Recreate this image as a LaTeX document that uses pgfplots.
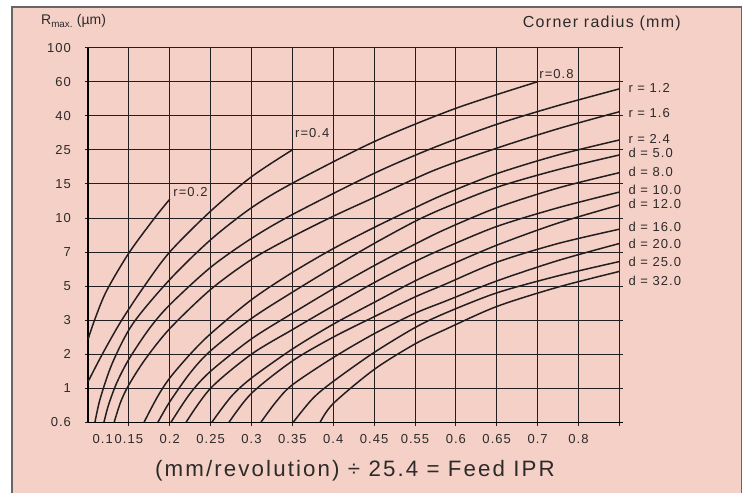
\documentclass[border=0pt]{standalone}
\usepackage{pgfplots}
\pgfplotsset{compat=1.18}
\usepackage{fontspec}
\setmainfont{Liberation Sans}
\newfontfamily\spaced[LetterSpace=8]{Liberation Sans}
\newfontfamily\spacedb[LetterSpace=9.5]{Liberation Sans}
\definecolor{bgpink}{RGB}{245,208,198}
\definecolor{ink}{RGB}{35,31,32}
\definecolor{txt}{RGB}{45,42,42}
\pgfplotsset{curve/.style={ink, line width=1.5pt, smooth, mark=none}}
\begin{document}
\begin{tikzpicture}[x=1pt,y=1pt]
\useasboundingbox (0,0) rectangle (744,493);
\fill[white] (0,0) rectangle (744,493);
\fill[bgpink] (12,0) rectangle (741.5,486);
\draw[black!60, line width=1.2pt] (12,0) -- (12,486) -- (741.5,486) -- (741.5,0);
\begin{axis}[
  at={(88pt,70.7pt)}, anchor=south west,
  scale only axis, width=535.4pt, height=374.6pt,
  xmin=0, xmax=13.1, ymin=0, ymax=11,
  axis x line*=bottom, axis y line*=left,
  x axis line style={line width=1.6pt,-},
  y axis line style={line width=2.8pt,-},
  xtick={1,...,13},
  xticklabels={0.15,0.2,0.25,0.3,0.35,0.4,0.45,0.55,0.6,0.65,0.7,0.8,{}},
  extra x ticks={0.36}, extra x tick labels={0.1},
  extra x tick style={grid=none, tick style={draw=none}},
  ytick={0,...,11},
  yticklabels={0.6,1,2,3,5,7,10,15,25,40,60,100},
  grid=major, major grid style={ink, line width=0.9pt},
  tick style={ink, line width=0.9pt}, tick align=outside, major tick length=3.5pt,
  ticklabel style={font=\spaced\fontsize{13}{15}\selectfont, text=txt},
  yticklabel style={xshift=-10pt},
  xticklabel style={yshift=-5pt},
  clip=false,
]
% r = 0.2
\addplot[curve] coordinates {(0,2.43)(0.16,3)(0.45,3.85)(1,4.97)(1.63,6)(2,6.55)};
% r = 0.4
\addplot[curve] coordinates {(0,1.19)(0.35,2.0)(0.8,2.95)(1.35,3.95)(2,5.0)(3,6.2)(4,7.21)(5,8.0)};
% r = 0.8
\addplot[curve] coordinates {(0.17,0)(0.3,0.7)(0.6,1.75)(1.1,2.9)(2,4.19)(3,5.36)(4,6.3)(5,7.02)(7,8.24)(9,9.22)(11,10)};
% r = 1.2
\addplot[curve] coordinates {(0.39,0)(0.5,0.5)(0.7,1.15)(1,1.85)(1.5,2.75)(2,3.45)(3,4.55)(4,5.4)(5,6.1)(7,7.31)(8.49,8.08)(10,8.75)(11.5,9.3)(13,9.79)};
% r = 1.6
\addplot[curve] coordinates {(0.64,0)(0.8,0.6)(1.0,1.1)(1.4,1.85)(2,2.75)(3,3.9)(4,4.78)(5,5.45)(6,6.05)(7,6.6)(8.49,7.41)(10,8.05)(11.5,8.62)(13,9.12)};
% r = 2.4
\addplot[curve] coordinates {(1.37,0)(1.7,0.75)(2,1.3)(2.5,2.0)(3,2.6)(4,3.6)(5,4.4)(6,5.1)(7,5.72)(8,6.3)(8.73,6.7)(10,7.3)(11.5,7.85)(13,8.29)};
% d = 5
\addplot[curve] coordinates {(1.71,0)(2,0.6)(2.5,1.45)(3,2.1)(4,3.05)(5,3.82)(6,4.55)(7,5.25)(8,5.9)(8.73,6.3)(10,6.9)(11.5,7.42)(13,7.85)};
% d = 8
\addplot[curve] coordinates {(2.03,0)(2.5,0.85)(3,1.5)(4,2.45)(5,3.2)(6,3.92)(7,4.6)(8,5.23)(8.73,5.66)(10,6.3)(11.5,6.88)(13,7.33)};
% d = 10
\addplot[curve] coordinates {(2.40,0)(3,1.0)(4,2.0)(5,2.72)(6,3.42)(7,4.1)(8,4.72)(8.73,5.12)(10,5.75)(11.5,6.3)(13,6.76)};
% d = 12
\addplot[curve] coordinates {(3.03,0)(3.5,0.75)(4,1.3)(5,2.15)(6,2.88)(7,3.52)(8,4.15)(8.73,4.55)(10,5.2)(11.5,5.85)(13,6.38)};
% d = 16
\addplot[curve] coordinates {(3.45,0)(4,0.85)(5,1.8)(6,2.5)(7,3.1)(8,3.68)(8.73,4.05)(10,4.7)(11.5,5.25)(13,5.67)};
% d = 20
\addplot[curve] coordinates {(4.23,0)(4.6,0.6)(5,1.1)(6,1.9)(7,2.6)(8,3.2)(8.73,3.55)(10,4.15)(11.5,4.75)(13,5.25)};
% d = 25
\addplot[curve] coordinates {(5.02,0)(5.5,0.7)(6,1.2)(7,2.05)(8,2.78)(8.73,3.2)(10,3.8)(11.5,4.3)(13,4.72)};
% d = 32
\addplot[curve] coordinates {(5.68,0)(6,0.55)(7,1.55)(8,2.3)(8.73,2.72)(10,3.4)(11.5,3.97)(13,4.43)};
\begin{scope}[every node/.style={font=\spaced\fontsize{13}{15}\selectfont, text=txt, inner sep=0pt, anchor=base west}]
\node at (axis cs:2.087,6.626) {r=0.2};
\node at (axis cs:5.065,8.36) {r=0.4};
\node at (axis cs:11.04,10.1) {r=0.8};
\node at (axis cs:13.22,9.68) {r = 1.2};
\node at (axis cs:13.22,8.94) {r = 1.6};
\node at (axis cs:13.22,8.20) {r = 2.4};
\node at (axis cs:13.22,7.79) {d = 5.0};
\node at (axis cs:13.22,7.21) {d = 8.0};
\node at (axis cs:13.22,6.675) {d = 10.0};
\node at (axis cs:13.22,6.29) {d = 12.0};
\node at (axis cs:13.22,5.60) {d = 16.0};
\node at (axis cs:13.22,5.11) {d = 20.0};
\node at (axis cs:13.22,4.57) {d = 25.0};
\node at (axis cs:13.22,4.03) {d = 32.0};
\end{scope}
\end{axis}
\node[anchor=base west, inner sep=0pt, text=txt, font=\fontsize{14}{16}\selectfont] at (41,468) {R\textsubscript{max.} (µm)};
\node[anchor=base east, inner sep=0pt, text=txt, font=\spaced\fontsize{16}{18}\selectfont] at (681,465) {Corner radius (mm)};
\node[anchor=base, inner sep=0pt, text=txt, font=\spacedb\fontsize{22.3}{25}\selectfont] at (355,16.3) {(mm/revolution) ÷ 25.4 = Feed IPR};
\end{tikzpicture}
\end{document}
